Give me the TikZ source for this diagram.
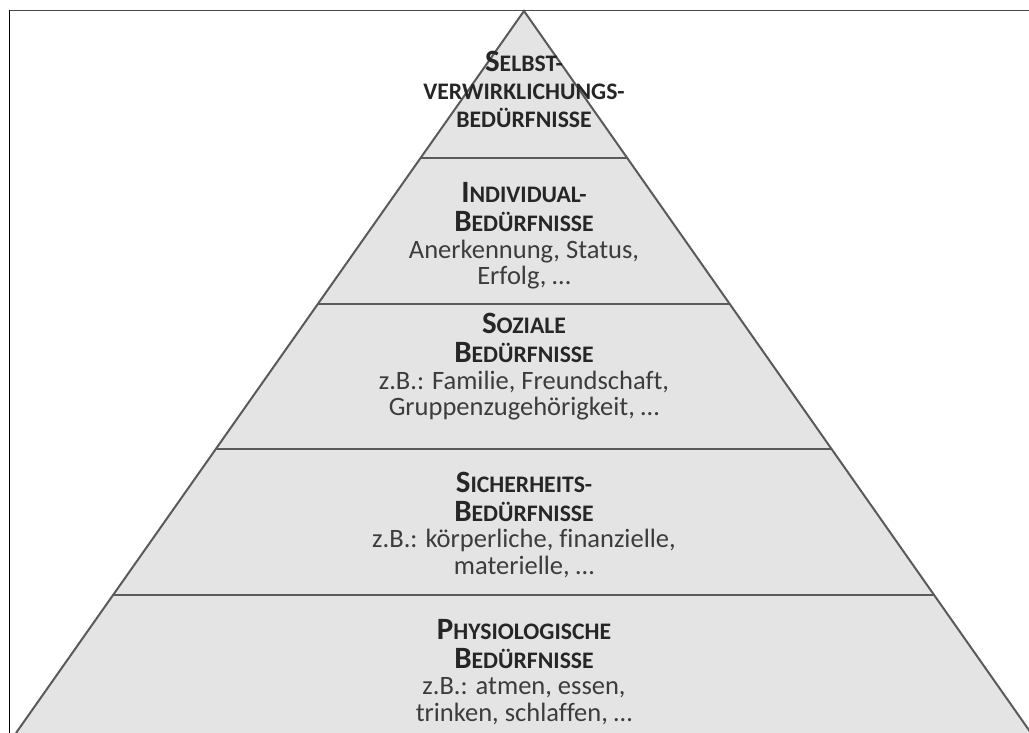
\documentclass[tikz,border=0pt]{standalone}
\usepackage{fontspec}
\setmainfont[Ligatures=NoCommon]{Carlito}
\usetikzlibrary{calc}

\definecolor{bandfill}{HTML}{E4E4E4}
\definecolor{edgegray}{HTML}{5A5A5A}
\definecolor{headtext}{HTML}{262626}
\definecolor{bodytext}{HTML}{3C3C3C}
\definecolor{framegray}{HTML}{4A4A4A}

% bold small-caps style heading: capital letter, then reduced capitals
\newcommand\capword[2]{{\bfseries\color{headtext}\fontsize{31}{26.5}\selectfont #1\fontsize{23.7}{26.5}\selectfont #2}}
\newcommand\smallcapsonly[1]{{\bfseries\color{headtext}\fontsize{23.7}{26.5}\selectfont #1}}

\tikzset{
  layerfill/.style={fill=bandfill},
  layeredge/.style={draw=edgegray, line width=2pt, line join=miter},
  frameline/.style={draw=framegray, line width=1.6pt},
  levellabel/.style={align=center, text=bodytext, inner sep=0pt,
    font=\fontsize{26.5}{26.5}\selectfont},
}

\begin{document}
\begin{tikzpicture}[x=1pt, y=-1pt]
  \useasboundingbox (0,0) rectangle (1029,733);

  % pyramid corners (base lies below the lower edge)
  \coordinate (apex) at (524,11);
  \coordinate (baseL) at (16,733);
  \coordinate (baseR) at (1031,733);

  \begin{scope}
    \clip (0,0) rectangle (1029,733);
    \fill[layerfill] (apex) -- (baseL) -- (baseR) -- cycle;
    % level dividers
    \foreach \t/\n in {0.2036/a, 0.4058/b, 0.6066/c, 0.8089/d} {
      \coordinate (l\n) at ($(apex)!\t!(baseL)$);
      \coordinate (r\n) at ($(apex)!\t!(baseR)$);
      \draw[layeredge] (l\n) -- (r\n);
    }
    \draw[layeredge] (baseL) -- (apex) -- (baseR);
  \end{scope}

  % frame lines along the top and left side
  \draw[frameline] (8.7,10.5) -- (1029,10.5);
  \draw[frameline, draw=black] (9.5,10) -- (9.5,733);

  % level texts
  \node[levellabel] (selbst) at (524,89)
    {\capword{S}{ELBST-}\\[1.5pt] \smallcapsonly{VERWIRKLICHUNGS-}\\[1.5pt] \smallcapsonly{BEDÜRFNISSE}};
  \node[levellabel] (individual) at (524,236)
    {\capword{I}{NDIVIDUAL-}\\[2.5pt] \capword{B}{EDÜRFNISSE}\\ Anerkennung, Status,\\ Erfolg, …};
  \node[levellabel] (sozial) at (524,367)
    {\capword{S}{OZIALE}\\[2.5pt] \capword{B}{EDÜRFNISSE}\\ z.B.: Familie, Freundschaft,\\ Gruppenzugehörigkeit, …};
  \node[levellabel] (sicherheit) at (524,525)
    {\capword{S}{ICHERHEITS-}\\[2.5pt] \capword{B}{EDÜRFNISSE}\\ z.B.: körperliche, finanzielle,\\ materielle, …};
  \node[levellabel] (physio) at (524,672)
    {\capword{P}{HYSIOLOGISCHE}\\[2.5pt] \capword{B}{EDÜRFNISSE}\\ z.B.: atmen, essen,\\ trinken, schlaffen, …};
\end{tikzpicture}
\end{document}
